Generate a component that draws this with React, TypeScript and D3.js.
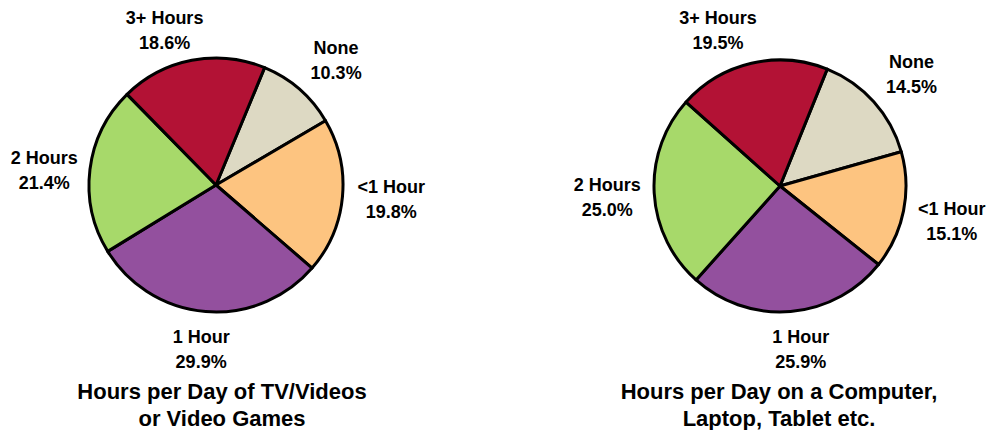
import React from "react";
import * as d3 from "d3";

const categories = ["None", "<1 Hour", "1 Hour", "2 Hours", "3+ Hours"];
const tvValues = [10.3, 19.8, 29.9, 21.4, 18.6];
const computerValues = [14.5, 15.1, 25.9, 25.0, 19.5];
const titles = [
  ["Hours per Day of TV/Videos", "or Video Games"],
  ["Hours per Day on a Computer,", "Laptop, Tablet etc."],
];
const colors = ["#DDD9C3", "#FDC480", "#93509E", "#A7D96A", "#B31235"];

const W = 992;
const H = 430;
const FONT = "'Liberation Sans', Arial, Helvetica, sans-serif";

const layouts = [
  {
    cx: 216,
    cy: 185,
    r: 127,
    startDeg: 22.5,
    titleX: 222,
    nudges: [
      [8.5, 3],
      [6, -1],
      [-1, -5],
      [-3, 6],
      [-19, 11.5],
    ],
  },
  {
    cx: 780,
    cy: 186,
    r: 126,
    startDeg: 22,
    titleX: 779,
    nudges: [
      [5, 2],
      [5, 1],
      [6.5, -6],
      [-3, 1.5],
      [-23.5, 10],
    ],
  },
];

function Pie({ values, layout, title }) {
  const start = (layout.startDeg * Math.PI) / 180;
  const pie = d3
    .pie<number>()
    .sort(null)
    .startAngle(start)
    .endAngle(start + 2 * Math.PI);
  const arcs = pie(values);
  const arc = d3.arc<d3.PieArcDatum<number>>().innerRadius(0).outerRadius(layout.r);
  const labelArc = d3
    .arc<d3.PieArcDatum<number>>()
    .innerRadius(170)
    .outerRadius(170);
  const fmt = d3.format(".1f");
  return (
    <g>
      <g transform={`translate(${layout.cx},${layout.cy})`}>
        {arcs.map((a, i) => (
          <path
            key={i}
            d={arc(a) || ""}
            fill={colors[i]}
            stroke="#000"
            strokeWidth={3}
            strokeLinejoin="round"
          />
        ))}
        {arcs.map((a, i) => {
          const [x, y] = labelArc.centroid(a);
          const lx = x + layout.nudges[i][0];
          const ly = y + layout.nudges[i][1];
          return (
            <text
              key={"l" + i}
              textAnchor="middle"
              fontFamily={FONT}
              fontWeight="bold"
              fontSize={18}
              fill="#000"
            >
              <tspan x={lx} y={ly - 6}>
                {categories[i]}
              </tspan>
              <tspan x={lx} y={ly + 19}>
                {fmt(values[i]) + "%"}
              </tspan>
            </text>
          );
        })}
      </g>
      <text
        textAnchor="middle"
        fontFamily={FONT}
        fontWeight="bold"
        fontSize={22}
        fill="#000"
      >
        <tspan x={layout.titleX} y={399}>
          {title[0]}
        </tspan>
        <tspan x={layout.titleX} y={426}>
          {title[1]}
        </tspan>
      </text>
    </g>
  );
}

export default function App() {
  return (
    <svg
      width={W}
      height={H}
      viewBox={`0 0 ${W} ${H}`}
      style={{ position: "absolute", left: 0, top: 0, background: "#fff" }}
    >
      <rect width={W} height={H} fill="#fff" />
      <Pie values={tvValues} layout={layouts[0]} title={titles[0]} />
      <Pie values={computerValues} layout={layouts[1]} title={titles[1]} />
    </svg>
  );
}
